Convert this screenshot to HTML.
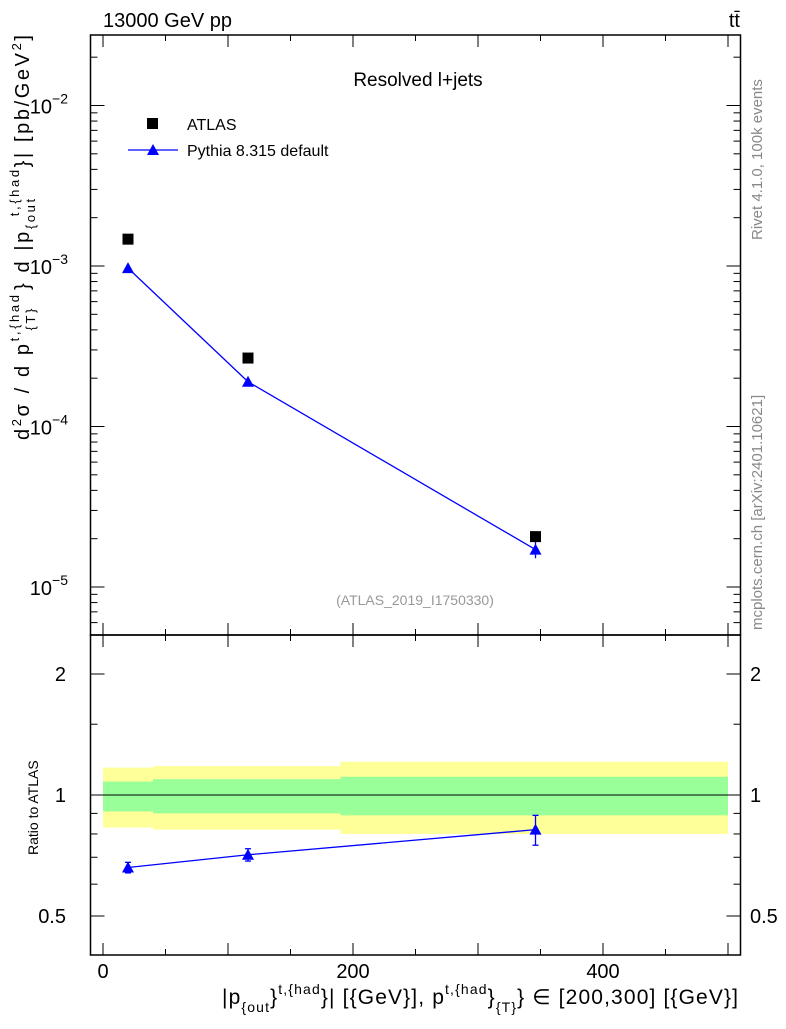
<!DOCTYPE html>
<html><head><meta charset="utf-8"><style>
body{margin:0;background:#fff;}
svg{font-family:"Liberation Sans",sans-serif;}
</style></head><body>
<svg id="c" width="786" height="1024" viewBox="0 0 786 1024">
<text x="103" y="27" font-size="20">13000 GeV pp</text>
<text x="740" y="27" font-size="20" text-anchor="end">tt̄</text>
<text x="418" y="86" font-size="19" text-anchor="middle">Resolved l+jets</text>
<text x="415" y="605" font-size="14" fill="#999" text-anchor="middle">(ATLAS_2019_I1750330)</text>
<text transform="translate(762,240) rotate(-90)" font-size="15" fill="#888">Rivet 4.1.0,  100k events</text>
<text transform="translate(762,630) rotate(-90)" font-size="15" fill="#888">mcplots.cern.ch [arXiv:2401.10621]</text>
<text transform="translate(29,440) rotate(-90)" font-size="20" textLength="405" lengthAdjust="spacing">d<tspan font-size="13" baseline-shift="8">2</tspan>σ /  d p<tspan font-size="13" baseline-shift="10">t,{had</tspan><tspan font-size="13" dx="-38" baseline-shift="-6">{T}</tspan><tspan dx="16">} d |p</tspan><tspan font-size="13" baseline-shift="-6">{out</tspan><tspan font-size="13" dx="-20" baseline-shift="10">t,{had</tspan>}| [pb/GeV<tspan font-size="13" baseline-shift="8">2</tspan>]</text>
<text transform="translate(38,855) rotate(-90)" font-size="14">Ratio to ATLAS</text>
<text x="222" y="1004" font-size="21" textLength="516" lengthAdjust="spacing">|p<tspan font-size="14" baseline-shift="-8">{out</tspan>}<tspan font-size="14" baseline-shift="10">t,{had</tspan>}| [{GeV}], p<tspan font-size="14" baseline-shift="10">t,{had</tspan>}<tspan font-size="14" baseline-shift="-8">{T}</tspan>} ∈ [200,300] [{GeV}]</text>
<g id="g"></g>
</svg>
<script>
const binLo=[0,40,190];
const binHi=[40,190,500];
const xPts=[20,116,346];
const atlas=[1.47e-3,2.67e-4,2.06e-5];
const pythia=[9.7e-4,1.9e-4,1.71e-5];
const pythiaErr=[0.03e-5,0.05e-5,0.2e-5];
const ratio=[0.66,0.71,0.82];
const ratioErr=[0.02,0.025,0.07];
const yellowHi=[1.17,1.18,1.21];
const yellowLo=[0.83,0.82,0.80];
const greenHi=[1.08,1.095,1.11];
const greenLo=[0.91,0.90,0.89];
const xTicks=[0,200,400];
const yTickExp=[-2,-3,-4,-5];
const rTicks=[0.5,1,2];

const NS="http://www.w3.org/2000/svg";
const g=document.getElementById('g');
const L=90.5,R=740.5,T=35,M=635,B=955;
const X=v=>103+v*1.25;
const Y=v=>266-(Math.log10(v)+3)*160.5;
const YR=v=>795-Math.log2(v)*121;
function mk(t,a,p){const e=document.createElementNS(NS,t);for(const k in a)e.setAttribute(k,a[k]);(p||g).appendChild(e);return e;}
function ln(x1,y1,x2,y2,s,w){return mk('line',{x1,y1,x2,y2,stroke:s||'#000','stroke-width':w||1});}

for(let i=0;i<binLo.length;i++){
 let r=mk('rect',{x:X(binLo[i]),y:YR(yellowHi[i]),width:X(binHi[i])-X(binLo[i]),height:YR(yellowLo[i])-YR(yellowHi[i]),fill:'#ffff99'});
 
 
 let q=mk('rect',{x:X(binLo[i]),y:YR(greenHi[i]),width:X(binHi[i])-X(binLo[i]),height:YR(greenLo[i])-YR(greenHi[i]),fill:'#99ff99'});
 
 
}
ln(X(0),YR(1),X(500),YR(1),'#000',1);

let f1=mk('rect',{x:L,y:T,width:R-L,height:M-T,fill:'none',stroke:'#000','stroke-width':1.5});


let f2=mk('rect',{x:L,y:M,width:R-L,height:B-M,fill:'none',stroke:'#000','stroke-width':1.5});



for(let v=0;v<=500;v+=50){
 const big=v%100===0, len=big?12:6;
 [T,M].forEach(y0=>{ln(X(v),y0,X(v),y0+len);});
 [M,B].forEach(y0=>{ln(X(v),y0,X(v),y0-len);});
}
xTicks.forEach(v=>{const t=mk('text',{x:X(v),y:978,'font-size':20,'text-anchor':'middle'});t.textContent=v;
 });

for(let e=-6;e<=-2;e++)for(let m=1;m<10;m++){
 const v=m*Math.pow(10,e),y=Y(v); if(y<T||y>M)continue;
 const len=m===1?14:7; ln(L,y,L+len,y); ln(R,y,R-len,y);
}
yTickExp.forEach(e=>{const t=mk('text',{x:68,y:Y(Math.pow(10,e))+8,'font-size':20,'text-anchor':'end'});
 t.textContent='10';const s=mk('tspan',{'font-size':14,dy:-10},t);s.textContent='−'+(-e);
 });

[0.5,0.6,0.7,0.8,0.9,1,1.5,2].forEach(v=>{const y=YR(v);const len=(v===0.5||v===1||v===2)?14:7;ln(L,y,L+len,y);ln(R,y,R-len,y);});
rTicks.forEach(v=>{[[66,'end'],[750,'start']].forEach(([x,a])=>{const t=mk('text',{x,y:YR(v)+7,'font-size':20,'text-anchor':a});t.textContent=v;
 });});

function tri(x,y,c){return mk('polygon',{points:`${x},${y-6} ${x-6},${y+5} ${x+6},${y+5}`,fill:c||'#00f'});}
let pl=mk('polyline',{points:xPts.map((x,i)=>X(x)+','+Y(pythia[i])).join(' '),fill:'none',stroke:'#00f','stroke-width':1.3});

xPts.forEach((x,i)=>{
 ln(X(x),Y(pythia[i]+pythiaErr[i]),X(x),Y(pythia[i]-pythiaErr[i]),'#00f',1.3);
 const p=tri(X(x),Y(pythia[i]));
 const s=mk('rect',{x:X(x)-5.5,y:Y(atlas[i])-5.5,width:11,height:11,fill:'#000'});
 
});
let rl=mk('polyline',{points:xPts.map((x,i)=>X(x)+','+YR(ratio[i])).join(' '),fill:'none',stroke:'#00f','stroke-width':1.3});

xPts.forEach((x,i)=>{
 const y1=YR(ratio[i]+ratioErr[i]),y2=YR(ratio[i]-ratioErr[i]);
 ln(X(x),y1,X(x),y2,'#00f',1.3);ln(X(x)-3,y1,X(x)+3,y1,'#00f',1.3);ln(X(x)-3,y2,X(x)+3,y2,'#00f',1.3);
 const p=tri(X(x),YR(ratio[i]));
});
const ls=mk('rect',{x:147,y:118,width:11,height:11,fill:'#000'});

const lt1=mk('text',{x:187,y:130,'font-size':16});lt1.textContent='ATLAS';

ln(128,150,178,150,'#00f',1.3);const lp=tri(153,150);

const lt2=mk('text',{x:187,y:156,'font-size':16});lt2.textContent='Pythia 8.315 default';

</script>
</body></html>
